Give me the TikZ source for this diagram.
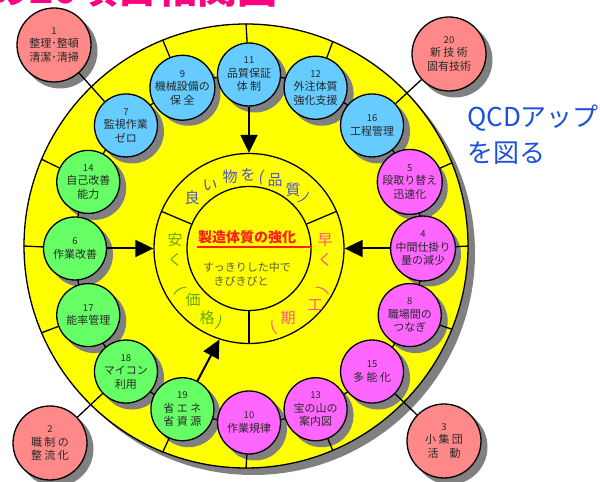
\documentclass[tikz,border=0pt]{standalone}
\usepackage{fontspec}
\newfontfamily\cjk{Noto Sans CJK JP}
\usetikzlibrary{arrows.meta,calc}
\definecolor{cyel}{RGB}{255,255,0}
\definecolor{cblue}{RGB}{102,204,255}
\definecolor{cgreen}{RGB}{102,255,102}
\definecolor{cmag}{RGB}{255,102,255}
\definecolor{cpink}{RGB}{255,136,136}
\definecolor{cshadow}{RGB}{128,128,128}
\definecolor{ctitle}{RGB}{255,0,128}
\definecolor{cqcd}{RGB}{30,80,220}
\definecolor{ctxt}{RGB}{40,40,40}
\definecolor{carcblue}{RGB}{80,80,210}
\definecolor{carcgreen}{RGB}{100,170,0}
\definecolor{carcpink}{RGB}{255,80,150}
\definecolor{cred}{RGB}{255,30,30}
\definecolor{cmidtxt}{RGB}{90,90,60}
\pgfdeclarelayer{back}
\pgfdeclarelayer{shad}
\pgfdeclarelayer{lines}
\pgfsetlayers{back,shad,lines,main}
\tikzset{
  item/.style={circle, draw, line width=1.3pt, minimum size=63pt, inner sep=0pt, align=center, text=ctxt, font=\cjk\fontsize{11}{13.5}\selectfont},
  bluec/.style={item, fill=cblue},
  greenc/.style={item, fill=cgreen},
  magc/.style={item, fill=cmag},
  pinkc/.style={item, fill=cpink, minimum size=74pt},
  link/.style={line width=1.3pt},
  bigarrow/.style={line width=2pt, -{Triangle[length=18pt,width=17pt]}},
  arcch/.style={font=\cjk\fontsize{15}{15}\selectfont, inner sep=0pt},
}
\newcommand\nb[1]{{\fontsize{9.5}{13.5}\selectfont #1}}
\begin{document}
\begin{tikzpicture}[x=1pt,y=1pt]
\useasboundingbox (0,0) rectangle (600,482);
\clip (0,0) rectangle (600,482);
\coordinate (C) at (249,233.5);

% title (cut off at top)
\node[anchor=base east, inner sep=0pt, font=\cjk\bfseries\fontsize{40}{40}\selectfont, text=ctitle] (title) at (278,478) {の20項目相関図};
% QCD text
\node[anchor=west, inner sep=0pt, font=\cjk\fontsize{26}{26}\selectfont, text=cqcd] (qcd1) at (467,364) {QCDアップ};
\node[anchor=west, inner sep=0pt, font=\cjk\fontsize{26}{26}\selectfont, text=cqcd] (qcd2) at (467,329) {を図る};

\begin{pgfonlayer}{back}
  \fill[white] (0,0) rectangle (600,482);
  \fill[cshadow] (253,229) circle[radius=222];
  \node[circle, draw, fill=cyel, line width=1.3pt, minimum size=444pt, inner sep=0pt] (big) at (246,236) {};
  \node[circle, draw, line width=1.3pt, minimum size=190pt, inner sep=0pt] (mid) at (C) {};
  \node[circle, draw, line width=1.3pt, minimum size=124pt, inner sep=0pt] (inner) at (C) {};
  \draw[link] (inner.157) -- (mid.157);
  \draw[link] (inner.23) -- (mid.23);
  \draw[link] (inner.270) -- (mid.270);
\end{pgfonlayer}

\begin{pgfonlayer}{shad}
  \foreach \a in {90,67.5,45,22.5,0,-22.5,-45,-67.5,-90,-112.5,-135,-157.5,180,157.5,135,112.5}
    \fill[cshadow] ($(C)+(\a:174)+(6,-6)$) circle[radius=32];
  \fill[cshadow] (60,431) circle[radius=37.5];
  \fill[cshadow] (455,422) circle[radius=37.5];
  \fill[cshadow] (56,33) circle[radius=37.5];
  \fill[cshadow] (450,35) circle[radius=37.5];
\end{pgfonlayer}

% ring items
\node[bluec] (n11) at ($(C)+(90:174)$) {\nb{11}\\品質保証\\体 制};
\node[bluec] (n12) at ($(C)+(67.5:174)$) {\nb{12}\\外注体質\\強化支援};
\node[bluec] (n16) at ($(C)+(45:174)$) {\nb{16}\\工程管理};
\node[magc] (n5) at ($(C)+(22.5:174)$) {\nb{5}\\段取り替え\\迅速化};
\node[magc] (n4) at ($(C)+(0:174)$) {\nb{4}\\中間仕掛り\\量の減少};
\node[magc] (n8) at ($(C)+(-22.5:174)$) {\nb{8}\\職場間の\\つなぎ};
\node[magc] (n15) at ($(C)+(-45:174)$) {\nb{15}\\多 能 化};
\node[magc] (n13) at ($(C)+(-67.5:174)$) {\nb{13}\\宝の山の\\案内図};
\node[magc] (n10) at ($(C)+(-90:174)$) {\nb{10}\\作業規律};
\node[greenc] (n19) at ($(C)+(-112.5:174)$) {\nb{19}\\省 エ ネ\\省 資 源};
\node[greenc] (n18) at ($(C)+(-135:174)$) {\nb{18}\\マイコン\\利用};
\node[greenc] (n17) at ($(C)+(-157.5:174)$) {\nb{17}\\能率管理};
\node[greenc] (n6) at ($(C)+(180:174)$) {\nb{6}\\作業改善};
\node[greenc] (n14) at ($(C)+(157.5:174)$) {\nb{14}\\自己改善\\能力};
\node[bluec] (n7) at ($(C)+(135:174)$) {\nb{7}\\監視作業\\ゼロ};
\node[bluec] (n9) at ($(C)+(112.5:174)$) {\nb{9}\\機械設備の\\保 全};

% outer pink items
\node[pinkc] (p1) at (54,437) {\nb{1}\\整理･整頓\\清潔･清掃};
\node[pinkc] (p20) at (449,428) {\nb{20}\\新 技 術\\固有技術};
\node[pinkc] (p2) at (50,39) {\nb{2}\\職 制 の\\整 流 化};
\node[pinkc] (p3) at (444,41) {\nb{3}\\小 集 団\\活　動};

\begin{pgfonlayer}{lines}
  \draw[link] (C) circle[radius=174];
  \foreach \n/\a in {n11/90,n12/67.5,n5/22.5,n4/0,n8/-22.5,n13/-67.5,n10/-90,n19/-112.5,n17/-157.5,n6/180,n14/157.5,n9/112.5}
    \draw[link] (\n) -- (big.\a);
  \draw[link] (p1) -- (n7);
  \draw[link] (p20) -- (n16);
  \draw[link] (p2) -- (n18);
  \draw[link] (p3) -- (n15);
  \draw[bigarrow] (n11) -- (mid.90);
  \draw[bigarrow] (n6) -- (mid.180);
  \draw[bigarrow] (n4) -- (mid.0);
  \draw[bigarrow] (n19) -- (mid.-108);
\end{pgfonlayer}

% centre texts
\node[inner sep=0pt, font=\cjk\bfseries\fontsize{14}{14}\selectfont, text=cred] (core) at (247,245) {製造体質の強化};
\coordinate (ulA) at (197,235);
\coordinate (ulB) at (312,235);
\draw[cred, line width=2pt] (ulA) -- (ulB);
\node[inner sep=0pt, font=\cjk\fontsize{11}{11}\selectfont, text=cmidtxt] (s1) at (247,215) {すっきりした中で};
\node[inner sep=0pt, font=\cjk\fontsize{11}{11}\selectfont, text=cmidtxt] (s2) at (241,201) {きびきびと};

% ring texts
\begin{scope}[arcch, text=carcblue]
\node (q1) at (192,284) {良};
\node (q2) at (210,297) {い};
\node (q3) at (230,305) {物};
\node (q4) at (248,307) {を};
\node[rotate=-10] (q5) at (262,305) {(};
\node (q6) at (275,302) {品};
\node (q7) at (293,292) {質};
\node[rotate=-48] (q8) at (305,284) {)};
\end{scope}
\begin{scope}[arcch, text=carcgreen]
\node (c1) at (175,242) {安};
\node (c2) at (175,222) {く};
\node[rotate=-59] (c3) at (180,192) {(};
\node (c4) at (193,182) {価};
\node (c5) at (207,164) {格};
\node[rotate=-21] (c6) at (220,159) {)};
\end{scope}
\begin{scope}[arcch, text=carcpink]
\node (d1) at (325,242) {早};
\node (d2) at (325,222) {く};
\node[rotate=-119] (d3) at (323,192) {(};
\node (d4) at (315,177) {工};
\node (d5) at (288,164) {期};
\node[rotate=-163] (d6) at (273,154) {)};
\end{scope}
\end{tikzpicture}
\end{document}
